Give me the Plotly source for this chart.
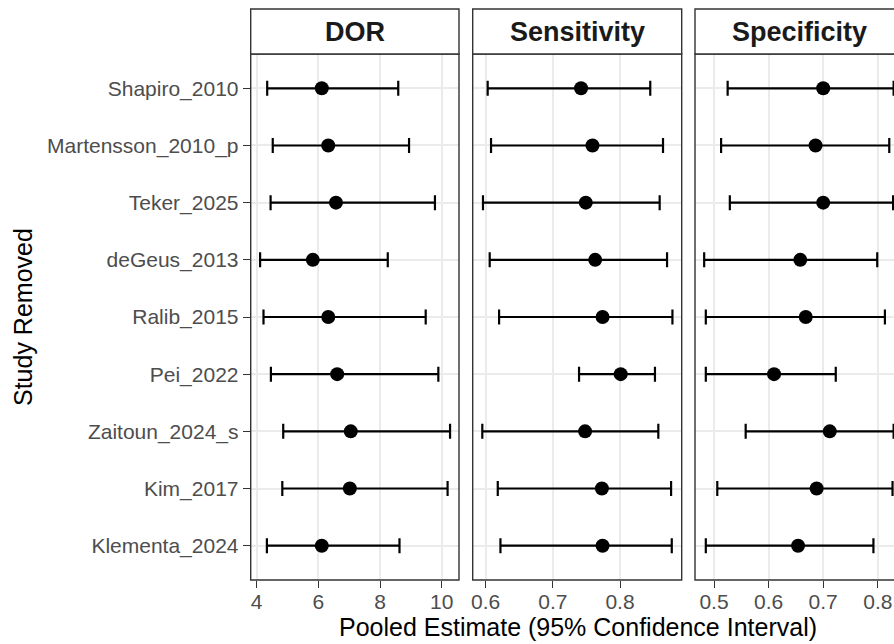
import plotly.graph_objects as go

studies = ["Shapiro_2010", "Martensson_2010_p", "Teker_2025", "deGeus_2013", "Ralib_2015",
           "Pei_2022", "Zaitoun_2024_s", "Kim_2017", "Klementa_2024"]

dor_est = [6.11, 6.32, 6.57, 5.82, 6.32, 6.61, 7.05, 7.02, 6.11]
dor_lo = [4.34, 4.52, 4.45, 4.11, 4.22, 4.46, 4.86, 4.83, 4.33]
dor_hi = [8.59, 8.94, 9.78, 8.25, 9.48, 9.89, 10.27, 10.19, 8.63]

sens_est = [0.742, 0.759, 0.749, 0.763, 0.774, 0.801, 0.748, 0.773, 0.774]
sens_lo = [0.603, 0.608, 0.596, 0.606, 0.620, 0.739, 0.595, 0.618, 0.622]
sens_hi = [0.845, 0.864, 0.859, 0.870, 0.878, 0.852, 0.857, 0.876, 0.877]

spec_est = [0.700, 0.686, 0.700, 0.658, 0.668, 0.610, 0.712, 0.688, 0.654]
spec_lo = [0.525, 0.513, 0.529, 0.482, 0.485, 0.485, 0.558, 0.506, 0.485]
spec_hi = [0.829, 0.821, 0.828, 0.799, 0.813, 0.723, 0.829, 0.827, 0.792]

panels = ["DOR", "Sensitivity", "Specificity"]
x_ticks = [[4, 6, 8, 10], [0.6, 0.7, 0.8], [0.5, 0.6, 0.7, 0.8]]
x_ticktext = [["4", "6", "8", "10"], ["0.6", "0.7", "0.8"], ["0.5", "0.6", "0.7", "0.8"]]

W, H = 894, 644
FONT = "Liberation Sans, Arial, sans-serif"

def px_x(p):
    return p / W

def px_y(p):
    return 1 - p / H

fig = go.Figure()
series = [(dor_est, dor_lo, dor_hi), (sens_est, sens_lo, sens_hi), (spec_est, spec_lo, spec_hi)]
axes = ["x", "x2", "x3"]
for (est, lo, hi), ax in zip(series, axes):
    fig.add_trace(go.Scatter(
        x=est, y=studies, xaxis=ax, yaxis="y", mode="markers",
        marker=dict(color="black", size=14),
        error_x=dict(type="data", symmetric=False,
                     array=[h - e for h, e in zip(hi, est)],
                     arrayminus=[e - l for e, l in zip(est, lo)],
                     color="black", thickness=2.2, width=7.5),
        showlegend=False, hoverinfo="skip", cliponaxis=False,
    ))

panel_top, panel_bot = 54, 580
ydom = [px_y(panel_bot), px_y(panel_top)]
xdoms = [[px_x(250.7), px_x(459)], [px_x(472.7), px_x(681.7)], [px_x(695), 1.0]]
xranges = [[3.805, 10.56], [0.5807, 0.8918], [0.4652, 0.4652 + 199 / 546 * 0.1 * 10]]

axis_common = dict(
    showgrid=True, gridcolor="#EBEBEB", gridwidth=1.6, zeroline=False,
    showline=False, ticks="outside", ticklen=7, tickwidth=1.3, tickcolor="#333333",
    tickfont=dict(family=FONT, size=21, color="#4D4D4D"), automargin=False,
)

layout = dict(
    width=W, height=H, margin=dict(l=0, r=0, t=0, b=0),
    paper_bgcolor="white", plot_bgcolor="white", showlegend=False,
    yaxis=dict(domain=ydom, anchor="x", type="category", categoryarray=studies,
               categoryorder="array", range=[8.6, -0.6], **axis_common),
)
for i, (dom, rng, tv, tt) in enumerate(zip(xdoms, xranges, x_ticks, x_ticktext)):
    key = "xaxis" if i == 0 else f"xaxis{i+1}"
    layout[key] = dict(domain=dom, anchor="y", range=rng, tickvals=tv, ticktext=tt,
                       ticklabelstandoff=-4, **axis_common)
fig.update_layout(**layout)

strip_h = 45 / (panel_bot - panel_top)
shapes = []
annotations = []
for i, name in enumerate(panels):
    xr = "x domain" if i == 0 else f"x{i+1} domain"
    right = 1.0 if i < 2 else (904 - 695) / 199
    shapes.append(dict(type="rect", xref=xr, yref="y domain", x0=0, x1=right, y0=0, y1=1,
                       line=dict(color="#333333", width=1.4), fillcolor="rgba(0,0,0,0)", layer="above"))
    shapes.append(dict(type="rect", xref=xr, yref="y domain", x0=0, x1=right, y0=1, y1=1 + strip_h,
                       line=dict(color="#333333", width=1.4), fillcolor="white", layer="above"))
    annotations.append(dict(text=f"<b>{name}</b>", xref=xr, yref="y domain",
                            x=right / 2, y=1 + strip_h / 2, xanchor="center", yanchor="middle",
                            showarrow=False, font=dict(family=FONT, size=27, color="#1A1A1A")))

annotations.append(dict(text="Pooled Estimate (95% Confidence Interval)", xref="paper", yref="paper",
                        x=px_x(577.5), y=px_y(627), xanchor="center", yanchor="middle",
                        showarrow=False, font=dict(family=FONT, size=25, color="black")))
annotations.append(dict(text="Study Removed", xref="paper", yref="paper",
                        x=px_x(23), y=px_y(317), xanchor="center", yanchor="middle", textangle=-90,
                        showarrow=False, font=dict(family=FONT, size=25, color="black")))
fig.update_layout(shapes=shapes, annotations=annotations)

fig.write_html("out.html", config={"displayModeBar": False},
               post_script="document.body.style.margin='0';document.body.style.overflow='hidden';")
